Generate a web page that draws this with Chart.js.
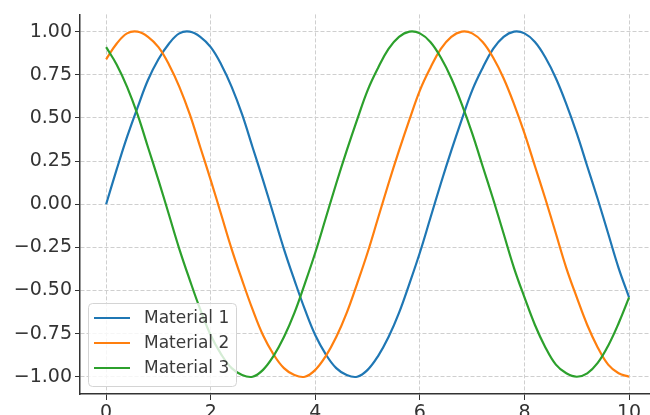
<!DOCTYPE html>
<html>
<head>
<meta charset="utf-8">
<script src="https://cdn.jsdelivr.net/npm/chart.js@4/dist/chart.umd.min.js"></script>
<style>
  html, body { margin: 0; padding: 0; background: #fff; }
  #wrap { width: 650px; height: 415px; position: relative; }
</style>
</head>
<body>
<div id="wrap"><canvas id="mainChart"></canvas></div>
<script>
// Sample positions along x
const xValues = [
  0, 0.2, 0.4, 0.6, 0.8, 1.0, 1.2, 1.4, 1.6, 1.8,
  2.0, 2.2, 2.4, 2.6, 2.8, 3.0, 3.2, 3.4, 3.6, 3.8,
  4.0, 4.2, 4.4, 4.6, 4.8, 5.0, 5.2, 5.4, 5.6, 5.8,
  6.0, 6.2, 6.4, 6.6, 6.8, 7.0, 7.2, 7.4, 7.6, 7.8,
  8.0, 8.2, 8.4, 8.6, 8.8, 9.0, 9.2, 9.4, 9.6, 9.8,
  10.0
];

const material1 = [
  0.00, 0.20, 0.39, 0.56, 0.72, 0.84, 0.93, 0.99, 1.00, 0.97,
  0.91, 0.81, 0.68, 0.52, 0.33, 0.14, -0.06, -0.26, -0.44, -0.61,
  -0.76, -0.87, -0.95, -0.99, -1.00, -0.96, -0.88, -0.77, -0.63, -0.46,
  -0.28, -0.08, 0.12, 0.31, 0.49, 0.66, 0.79, 0.90, 0.97, 1.00,
  0.99, 0.94, 0.85, 0.73, 0.58, 0.41, 0.22, 0.03, -0.17, -0.37,
  -0.54
];

const material2 = [
  0.84, 0.93, 0.99, 1.00, 0.97, 0.91, 0.81, 0.68, 0.52, 0.33,
  0.14, -0.06, -0.26, -0.44, -0.61, -0.76, -0.87, -0.95, -0.99, -1.00,
  -0.96, -0.88, -0.77, -0.63, -0.46, -0.28, -0.08, 0.12, 0.31, 0.49,
  0.66, 0.79, 0.90, 0.97, 1.00, 0.99, 0.94, 0.85, 0.73, 0.58,
  0.41, 0.22, 0.03, -0.17, -0.37, -0.54, -0.70, -0.83, -0.93, -0.98,
  -1.00
];

const material3 = [
  0.91, 0.81, 0.68, 0.52, 0.33, 0.14, -0.06, -0.26, -0.44, -0.61,
  -0.76, -0.87, -0.95, -0.99, -1.00, -0.96, -0.88, -0.77, -0.63, -0.46,
  -0.28, -0.08, 0.12, 0.31, 0.49, 0.66, 0.79, 0.90, 0.97, 1.00,
  0.99, 0.94, 0.85, 0.73, 0.58, 0.41, 0.22, 0.03, -0.17, -0.37,
  -0.54, -0.70, -0.83, -0.93, -0.98, -1.00, -0.98, -0.92, -0.82, -0.69,
  -0.54
];

const seriesLabels = ['Material 1', 'Material 2', 'Material 3'];
const seriesColors = ['#1f77b4', '#ff7f0e', '#2ca02c'];
const xTicks = [0, 2, 4, 6, 8, 10];
const yTicks = [-1, -0.75, -0.5, -0.25, 0, 0.25, 0.5, 0.75, 1];

const FONT = "'DejaVu Sans', sans-serif";
const INK = '#333333';
const GRID = '#cfcfcf';

const toPoints = (ys) => ys.map((y, i) => ({ x: xValues[i], y }));

// Boxed legend drawn inside the lower-left corner of the plot
const insideLegend = {
  id: 'insideLegend',
  afterDatasetsDraw(chart) {
    const { ctx, chartArea } = chart;
    const left = chartArea.left + 8;
    const top = chartArea.bottom - 91;
    const w = 148;
    const h = 83;
    const r = 4;

    ctx.save();
    ctx.beginPath();
    ctx.roundRect(left + 0.5, top + 0.5, w, h, r);
    ctx.fillStyle = 'rgba(255,255,255,0.8)';
    ctx.fill();
    ctx.lineWidth = 1;
    ctx.strokeStyle = '#d4d4d4';
    ctx.stroke();

    ctx.font = `17px ${FONT}`;
    ctx.textBaseline = 'middle';
    chart.data.datasets.forEach((ds, i) => {
      const y = top + 15 + i * 25;
      ctx.beginPath();
      ctx.moveTo(left + 6, y);
      ctx.lineTo(left + 42, y);
      ctx.strokeStyle = ds.borderColor;
      ctx.lineWidth = 2.2;
      ctx.stroke();
      ctx.fillStyle = '#3a3a3a';
      ctx.fillText(ds.label, left + 56, y + 1);
    });
    ctx.restore();
  }
};

const minusSign = (v) => v.toFixed(2).replace('-', '\u2212');

new Chart(document.getElementById('mainChart'), {
  type: 'line',
  data: {
    datasets: [material1, material2, material3].map((ys, i) => ({
      label: seriesLabels[i],
      data: toPoints(ys),
      borderColor: seriesColors[i],
      borderWidth: 2.2,
      pointRadius: 0,
      tension: 0.4,
      fill: false,
      order: 3 - i
    }))
  },
  options: {
    responsive: true,
    maintainAspectRatio: false,
    animation: false,
    events: [],
    layout: { padding: { top: 13, right: 0, bottom: 0, left: 0 } },
    plugins: {
      legend: { display: false },
      tooltip: { enabled: false }
    },
    scales: {
      x: {
        type: 'linear',
        min: -0.5,
        max: 10.4,
        afterBuildTicks(scale) {
          scale.ticks = xTicks.map((v) => ({ value: v }));
        },
        afterFit(scale) {
          scale.height = 21;
        },
        grid: {
          color: GRID,
          lineWidth: 1,
          tickLength: 6,
          tickColor: INK,
          tickBorderDash: []
        },
        border: { display: true, color: INK, width: 1.5, dash: [4, 2] },
        ticks: {
          color: INK,
          padding: 2,
          maxRotation: 0,
          font: { family: FONT, size: 19 },
          callback: (v) => String(v)
        }
      },
      y: {
        min: -1.1,
        max: 1.1,
        afterBuildTicks(scale) {
          scale.ticks = yTicks.map((v) => ({ value: v }));
        },
        afterFit(scale) {
          scale.width = 80;
        },
        grid: {
          color: GRID,
          lineWidth: 1,
          tickLength: 5,
          tickColor: INK,
          tickBorderDash: []
        },
        border: { display: true, color: INK, width: 1.5, dash: [4, 2] },
        ticks: {
          color: INK,
          padding: 3,
          font: { family: FONT, size: 19 },
          callback: (v) => minusSign(v)
        }
      }
    }
  },
  plugins: [insideLegend]
});
</script>
</body>
</html>
